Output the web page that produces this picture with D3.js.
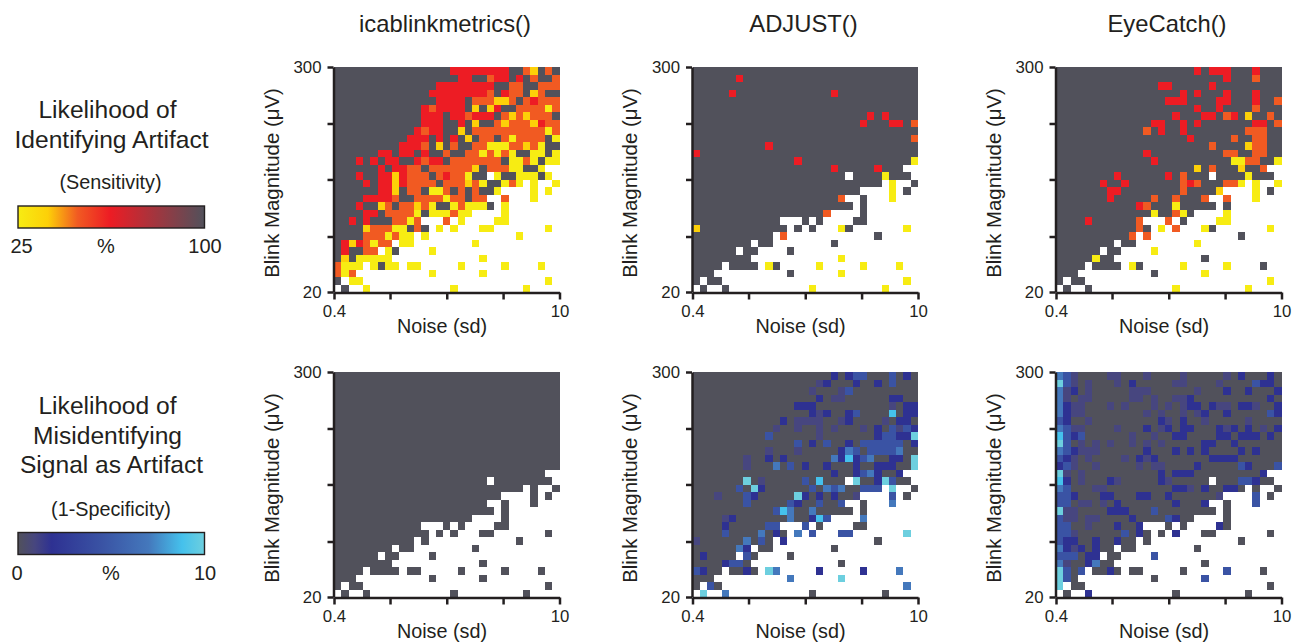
<!DOCTYPE html>
<html>
<head>
<meta charset="utf-8">
<title>Blink artifact detection</title>
<script src="https://cdn.jsdelivr.net/npm/d3@7"></script>
<style>
  html, body { margin: 0; padding: 0; background: #fff; }
  svg { display: block; font-family: "Liberation Sans", Arial, sans-serif; fill: #231f20; }
  .axis path, .axis line { stroke: #231f20; stroke-width: 2.5; }
  .axis text { font-size: 16.8px; fill: #231f20; font-family: "Liberation Sans", Arial, sans-serif; }
</style>
</head>
<body>
<div id="chart"></div>
<script>
// rows run top (300 uV) to bottom (20 uV), columns 0.4 to 10 sd. "." = no data
// sensitivity letters: y Y o r g, specificity letters: g a n b m c t
const icaSensitivity = [
  "ggggggggggggggggrrrrrrrrggoYgog",
  "gggggggggggggggggrrggorrgrgoggo",
  "ggggggggggggggrrrrrrrrggooggooo",
  "gggggggggggggrrrrrrrrogroogYogg",
  "ggggggggggggggrrrrgoooYYogorooo",
  "ggggggggggggrorrrrgYgYrggooooyo",
  "ggggggggggggrrrgrrorrrgoYoYooog",
  "ggggggggggggrrrggrgYggoYoooYroo",
  "gggggggggggrorrggYgooooooooooyo",
  "ggggggggggrrrgrgrgYgoogoyoooogy",
  "gggggggggrrrogYgoggooyyyooYoygg",
  "ggggggrrgrrgrggoggooyoyoyggyygy",
  "gggrgrgrrggrorrgooooooogyyoygyy",
  "ggggggrgrroogooooooYgoooyyggy..",
  "gggrggrrYrooogorooygg.yggyyygy.",
  "ggggrgrrYroooogoooYoyggyoy.y..y",
  "ggggggrrYgoogyyogogoggy....y.y.",
  "ggggrrrroggooooyoogoo..o...y...",
  "gggrggYogooYoyggyoyyyg.y.......",
  "ggggrrgooooygyyyoyy....y.......",
  "ggrgrgggooyo...o.y....yy.......",
  "ggggYoooyygog.y.y...yy.......y.",
  "ggggoooyoyy.y............y.....",
  "grYroyoo.yy........y...........",
  "grggoo.yg....y.................",
  "gYgyyyyy............y..........",
  "oyyy.ygyy.yy.....y.....y....y..",
  "oyo..........y......y..........",
  "g.yy.........................y.",
  ".g..y...........y.........y...."
];
const adjustSensitivity = [
  "ggggggggggggggggggggggggggggggg",
  "ggggggrgggggggggggggggggggggggg",
  "ggggggggggggggggggggggggggggggg",
  "gggggrgggggggggggggrggggggggggg",
  "ggggggggggggggggggggggggggggggg",
  "ggggggggggggggggggggggggggggggg",
  "ggggggggggggggggggggggggrgrgggg",
  "gggggggggggggggggggggggrgggrrgo",
  "ggggggggggggggggggggggggggggggg",
  "ggggggggggggggggggggggggggggggo",
  "ggggggggggrgggggggggggggggggggg",
  "rgggggggggggggggggggggggggggggg",
  "ggggggggggggggrgggggggggggggggy",
  "gggggggggggggggggggrgggggrggg..",
  "ggggggggggggggggggggg.ggggyggg.",
  "gggggggggggggggggggggggggg.y..g",
  "ggggggggggggggggggggggg....y.g.",
  "ggggggggggggggggggggo..g...y...",
  "gggggggggggggggggggggg.g.......",
  "ggggggggggggggggggo....g.......",
  "gggggggggggg...g.g....gg.......",
  "Ygggggggggggg.g.g...yg.......y.",
  "ggggggggggg.o............g.....",
  "gggggggg.gg........g...........",
  "gggggg.gg....g.................",
  "gggggggg............y..........",
  "gggg.gggg.yg.....y.....y....y..",
  "ggg..........g......y..........",
  "g.gg.........................y.",
  ".g..g...........y.........y...."
];
const eyeCatchSensitivity = [
  "gggggggggggggggggggrgrrrgggrggg",
  "gggggggggggggggggggggggrgggoggg",
  "ggggggggggggggrrgggggrggggggggg",
  "gggggggggggggggggrgrgggrgggrggg",
  "gggggggggggggggrrrggggrrgggrggo",
  "gggggggggggggggggggrggrggggoggg",
  "ggggggggggggggggrgggrrgorgYggog",
  "gggggggggggggrrggrgrgggggggrrgo",
  "ggggggggggggogrggrggggggggooogg",
  "ggggggggggggggggggrgggggoggoogg",
  "gggggggggggggggggggggoggggYoogg",
  "ggggggggggggrggggggggggooggoogg",
  "gggggggggggggrggggggggggyyooggy",
  "gggggggggggggggggggYgogggYggo..",
  "ggggggggrggggggrgoggg.ggggyggg.",
  "ggggggrggrgggggggorogggooy.y..y",
  "gggggggrrggggggggoggggY....y.g.",
  "gggggggrgggggoggogggo..o...y...",
  "gggggggggggrogggyggggg.g.......",
  "gggggggggggggyggoyg....y.......",
  "ggggrggggggo...o.g....yy.......",
  "gggggggggggog.y.o...yg.......y.",
  "ggggggggggo.o............g.....",
  "gggggggg.gg........y...........",
  "gggggg.gg....y.................",
  "gggggygg............g..........",
  "gggg.gggg.yg.....y.....y....g..",
  "ggg..........g......y..........",
  "g.gg.........................y.",
  ".g..g...........y.........y...."
];
const icaSpecificity = [
  "ggggggggggggggggggggggggggggggg",
  "ggggggggggggggggggggggggggggggg",
  "ggggggggggggggggggggggggggggggg",
  "ggggggggggggggggggggggggggggggg",
  "ggggggggggggggggggggggggggggggg",
  "ggggggggggggggggggggggggggggggg",
  "ggggggggggggggggggggggggggggggg",
  "ggggggggggggggggggggggggggggggg",
  "ggggggggggggggggggggggggggggggg",
  "ggggggggggggggggggggggggggggggg",
  "ggggggggggggggggggggggggggggggg",
  "ggggggggggggggggggggggggggggggg",
  "ggggggggggggggggggggggggggggggg",
  "ggggggggggggggggggggggggggggg..",
  "ggggggggggggggggggggg.gggggggg.",
  "gggggggggggggggggggggggggg.g..g",
  "ggggggggggggggggggggggg....g.g.",
  "ggggggggggggggggggggg..g...g...",
  "gggggggggggggggggggggg.g.......",
  "ggggggggggggggggggg....g.......",
  "gggggggggggg...g.g....gg.......",
  "ggggggggggggg.g.g...gg.......g.",
  "ggggggggggg.g............g.....",
  "gggggggg.gg........g...........",
  "gggggg.gg....g.................",
  "gggggggg............g..........",
  "gggg.gggg.gg.....g.....g....g..",
  "ggg..........g......g..........",
  "g.gg.........................g.",
  ".g..g...........g.........g...."
];
const adjustSpecificity = [
  "gggggggggggggggggggngnbbgggbgng",
  "gggggggggggggggggangggnggngbggg",
  "ggggggggggggggggagggabggggggggg",
  "gggggggggggggggggngaaggggggnngg",
  "ggggggggggggggnnnggggggggggagnn",
  "ggggggggggggggggnanggnbggggcgnn",
  "ggggggggggggngaaaagganggggagnng",
  "gggggggggggaggaggagagggagngbabn",
  "ggggggggggbggggggagggggggnbbnnt",
  "ggggggggggggggbgngbggngbbbbbbgn",
  "ggggggggggagggagggggnmbgbbbbmgg",
  "gggggggaggngnggggggmncnbmggnngt",
  "gggggggagggmgbgnggngggnggnnnggt",
  "gggggggggggggggggggnggnbmnggn..",
  "gggggggtgagggggbgcggg.tggntbgg.",
  "ggggggbgtnggggggbgmbmggbbb.t..g",
  "gggagggbngggggtngngngga....b.g.",
  "gggggggbgggggbnggbggb..g...m...",
  "gggggggggggbcmggmggggg.g.......",
  "ggggangggggggmggncb....m.......",
  "ggggngggggbb...b.g....gg.......",
  "ggggbggggmgng.m.b...bb.......t.",
  "aggggggmgbg.n............g.....",
  "ggggggmn.gg........g...........",
  "gngggg.bg....g.................",
  "ggggnbbg............g..........",
  "bngg.ggng.tm.....n.....n....m..",
  "ggg..........m......t..........",
  "g.bg.........................m.",
  ".t..m...........g.........g...."
];
const eyeCatchSpecificity = [
  "mbaggggaagggaggggagggggagngggng",
  "tbagagggagngggggaaggggaggggbnng",
  "mangagggggaaaggggggagggnggngggn",
  "magaagggggaagaggaanggggggggggng",
  "mnaagggagagggagaganngnaagnnaggn",
  "mnaaggggggggagaggaganggngggggbn",
  "bnggagggggggggnagnggagggggagggg",
  "mbaaggggagggngangnngggnangngagn",
  "cbnbggggggaggaggnnggggnngnnngng",
  "tbgagagaggagagagggggnnggngggggg",
  "mbnaaaggggggngggngngnggggngnggg",
  "bnagaggggagnangggggggnnnngggggg",
  "nbaggagggggagaaggggngggggbngggb",
  "tagaggggggggggngnnngggggggggn..",
  "cngagggnagggggnaggggg.gggbbngg.",
  "mbgggaagggggggggnnagnggnng.g..g",
  "bbngggnngggnnggngggggga....b.g.",
  "bbgaagagngggggggngggn..g...b...",
  "taaggggnnngggbgggggggg.g.......",
  "baagaaggggnggggbngg....g.......",
  "bbggagggnggn...g.g....ng.......",
  "bbaggggggbgng.g.n...gg.......g.",
  "bnnggnggngg.g............g.....",
  "mnangngg.gg........g...........",
  "bbbgnn.gg....b.................",
  "maggnmgg............g..........",
  "tbgb.ggng.gg.....g.....b....g..",
  "tbg..........g......b..........",
  "t.gg.........................g.",
  ".g..n...........g.........g...."
];

// percent for each letter
const sensLetters = ["y", "Y", "o", "r", "g"];
const sensPercent = [25, 37, 49, 62, 100];
const sensColors = ["#f7ec13", "#fdd008", "#f15a22", "#ed1c24", "#51515b"];
const specLetters = ["g", "a", "n", "b", "m", "c", "t"];
const specPercent = [0, 0.9, 1.8, 4.5, 7, 8.8, 10];
const specColors = ["#51515b", "#47467f", "#2e3192", "#3a53a4", "#4478bc", "#45c1ec", "#6dcfdf"];

const methods = ["icablinkmetrics()", "ADJUST()", "EyeCatch()"];
const noiseTicks = [0.4, 0.89, 2, 4.47, 10];
const blinkTicks = [20, 39, 77.5, 152, 300];

const width = 1306;
const height = 644;
const panelLefts = [334, 692.5, 1056];
const panelTops = [67, 372];
const panelWidth = 225.5;
const panelHeight = 225;

const svg = d3.select("#chart").append("svg")
    .attr("width", width)
    .attr("height", height);

const sensColor = d3.scaleLinear().domain(sensPercent).range(sensColors);
const specColor = d3.scaleLinear().domain(specPercent).range(specColors);

function text(x, y, str, size, anchor) {
    return svg.append("text")
        .attr("x", x)
        .attr("y", y)
        .attr("text-anchor", anchor || "middle")
        .style("font-size", size + "px")
        .text(str);
}

function drawPanel(rows, left, top, letters, percents, color) {
    const cols = d3.range(rows[0].length);
    const x = d3.scaleBand().domain(cols).range([left, left + panelWidth]);
    const y = d3.scaleBand().domain(d3.range(rows.length)).range([top, top + panelHeight]);
    const value = d3.scaleOrdinal().domain(letters).range(percents);

    const cells = [];
    rows.forEach((row, r) => {
        cols.forEach(c => {
            if (row[c] !== ".") cells.push({ r: r, c: c, v: value(row[c]) });
        });
    });

    svg.append("g").selectAll("rect")
        .data(cells)
        .enter()
        .append("rect")
        .attr("x", d => x(d.c))
        .attr("y", d => y(d.r))
        .attr("width", x.bandwidth())
        .attr("height", y.bandwidth())
        .attr("fill", d => color(d.v))
        .attr("shape-rendering", "crispEdges");

    const noise = d3.scaleLog().domain([0.4, 10]).range([left, left + panelWidth]);
    const blink = d3.scaleLog().domain([20, 300]).range([top + panelHeight, top]);

    svg.append("g")
        .attr("class", "axis")
        .attr("transform", "translate(0," + (top + panelHeight + 0.5) + ")")
        .call(d3.axisBottom(noise)
            .tickValues(noiseTicks)
            .tickSizeInner(7)
            .tickSizeOuter(0)
            .tickPadding(6)
            .tickFormat(d => (d === 0.4 || d === 10) ? d : ""));

    svg.append("g")
        .attr("class", "axis")
        .attr("transform", "translate(" + (left - 0.5) + ",0)")
        .call(d3.axisLeft(blink)
            .tickValues(blinkTicks)
            .tickSizeInner(6)
            .tickSizeOuter(0)
            .tickPadding(6)
            .tickFormat(d => (d === 20 || d === 300) ? d : ""));

    text(left + 108, top + panelHeight + 41, "Noise (sd)", 19.8);

    svg.append("text")
        .attr("transform", "translate(" + (left - 55.5) + "," + (top + 116) + ") rotate(-90)")
        .attr("text-anchor", "middle")
        .style("font-size", "20.4px")
        .text("Blink Magnitude (\u03bcV)");
}

const panels = [
    [icaSensitivity, adjustSensitivity, eyeCatchSensitivity],
    [icaSpecificity, adjustSpecificity, eyeCatchSpecificity]
];

panels[0].forEach((rows, i) => drawPanel(rows, panelLefts[i], panelTops[0], sensLetters, sensPercent, sensColor));
panels[1].forEach((rows, i) => drawPanel(rows, panelLefts[i], panelTops[1], specLetters, specPercent, specColor));

methods.forEach((m, i) => text(panelLefts[i] + 111, 32, m, 23.8));

// colour bars
function colorBar(id, top, percents, color) {
    const domain = d3.extent(percents);
    const pos = d3.scaleLinear().domain(domain).range([18, 204.5]);
    const grad = svg.append("defs").append("linearGradient").attr("id", id);
    grad.selectAll("stop")
        .data(percents)
        .enter()
        .append("stop")
        .attr("offset", d => (d - domain[0]) / (domain[1] - domain[0]))
        .attr("stop-color", d => color(d));
    svg.append("rect")
        .attr("x", pos(domain[0]))
        .attr("y", top)
        .attr("width", pos(domain[1]) - pos(domain[0]))
        .attr("height", 22)
        .attr("fill", "url(#" + id + ")")
        .attr("stroke", "#231f20")
        .attr("stroke-width", 1.4);
}

colorBar("sensGrad", 206, sensPercent, sensColor);
colorBar("specGrad", 532.5, specPercent, specColor);

text(107.5, 118, "Likelihood of", 24.6);
text(111.5, 148, "Identifying Artifact", 24.6);
text(110.5, 189, "(Sensitivity)", 19.8);
text(21.5, 253, "25", 20);
text(106, 253, "%", 20);
text(205, 253, "100", 20);

text(107.5, 414, "Likelihood of", 24.6);
text(107.5, 444, "Misidentifying", 24.6);
text(111.5, 473, "Signal as Artifact", 24.6);
text(111, 516, "(1-Specificity)", 19.8);
text(17, 580, "0", 20);
text(111, 580, "%", 20);
text(205, 580, "10", 20);
</script>
</body>
</html>
